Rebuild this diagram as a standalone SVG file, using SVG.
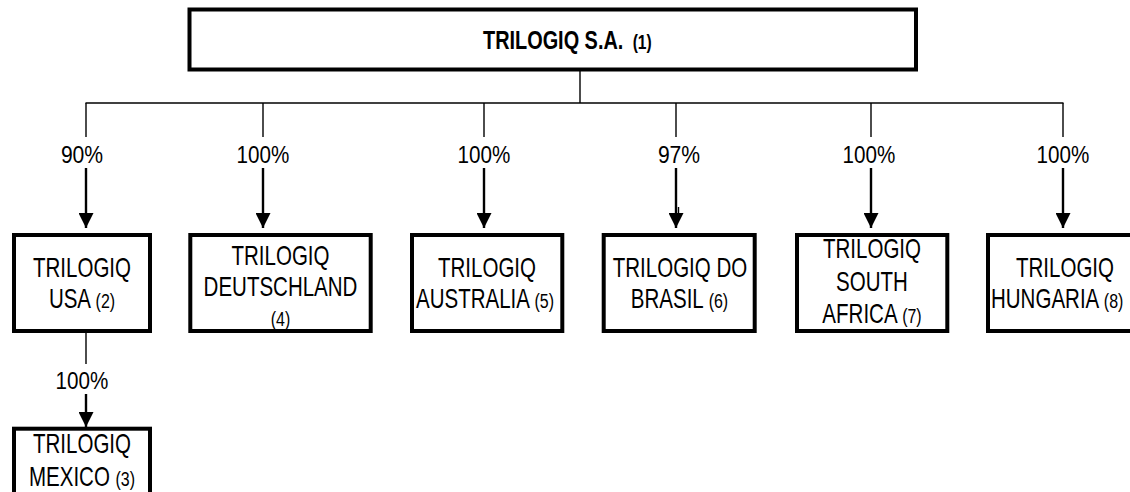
<svg xmlns="http://www.w3.org/2000/svg" width="1130" height="492" viewBox="0 0 1130 492">
<style>
.box{fill:#fff;stroke:#000;stroke-width:4}
.thin{stroke:#000;stroke-width:1.4;fill:none}
.thick{stroke:#000;stroke-width:2.4;fill:none}
.t{font-family:"Liberation Sans",Arial,sans-serif;font-size:27px;fill:#000;text-anchor:middle}
.ts{font-family:"Liberation Sans",Arial,sans-serif;font-size:27px;fill:#000;text-anchor:start}
.p{font-family:"Liberation Sans",Arial,sans-serif;font-size:24px;fill:#000;text-anchor:middle}
.s{font-size:21px}
.title{font-family:"Liberation Sans",Arial,sans-serif;font-size:25.5px;font-weight:bold;fill:#000}
</style>
<defs>
<marker id="ah" viewBox="0 0 15 15" refX="15" refY="7.5" markerWidth="15" markerHeight="15" markerUnits="userSpaceOnUse" orient="auto">
<path d="M0,0 L15,7.5 L0,15 Z" fill="#000"/>
</marker>
</defs>
<rect width="1130" height="492" fill="#fff"/>
<g id="connectors">
<line class="thin" x1="580" y1="71" x2="580" y2="103"/>
<line class="thin" x1="85.5" y1="103" x2="1063.5" y2="103"/>
<line class="thin" x1="86" y1="103" x2="86" y2="137"/>
<line class="thin" x1="263" y1="103" x2="263" y2="137"/>
<line class="thin" x1="484" y1="103" x2="484" y2="137"/>
<line class="thin" x1="676" y1="103" x2="676" y2="137"/>
<line class="thin" x1="871" y1="103" x2="871" y2="137"/>
<line class="thin" x1="1063" y1="103" x2="1063" y2="137"/>
<line class="thick" x1="86" y1="168" x2="86" y2="228" marker-end="url(#ah)"/>
<line class="thick" x1="263" y1="168" x2="263" y2="228" marker-end="url(#ah)"/>
<line class="thick" x1="484" y1="168" x2="484" y2="228" marker-end="url(#ah)"/>
<line class="thick" x1="676" y1="168" x2="676" y2="228" marker-end="url(#ah)"/>
<line class="thin" x1="678.5" y1="207" x2="678.5" y2="218"/>
<line class="thick" x1="871" y1="168" x2="871" y2="228" marker-end="url(#ah)"/>
<line class="thick" x1="1063" y1="168" x2="1063" y2="228" marker-end="url(#ah)"/>
<line class="thin" x1="86" y1="333" x2="86" y2="364"/>
<line class="thick" x1="86" y1="394" x2="86" y2="427" marker-end="url(#ah)"/>
<text class="p" transform="translate(82,163) scale(0.88,1)">90%</text>
<text class="p" transform="translate(263,163) scale(0.86,1)">100%</text>
<text class="p" transform="translate(484,163) scale(0.86,1)">100%</text>
<text class="p" transform="translate(679,163) scale(0.88,1)">97%</text>
<text class="p" transform="translate(869,163) scale(0.86,1)">100%</text>
<text class="p" transform="translate(1063,163) scale(0.86,1)">100%</text>
<text class="p" transform="translate(82,389) scale(0.86,1)">100%</text>
</g>
<g id="n1">
<rect class="box" x="189.5" y="9.5" width="726.5" height="60"/>
<text class="title" transform="translate(483,49) scale(0.78,1)">TRILOGIQ S.A.<tspan font-size="20" dx="12">(1)</tspan></text>
</g>
<g id="n2">
<rect class="box" x="14" y="235" width="136" height="96"/>
<text class="t" transform="translate(82,277) scale(0.76,1)">TRILOGIQ</text>
<text class="t" transform="translate(82,308) scale(0.76,1)">USA <tspan class="s">(2)</tspan></text>
</g>
<g id="n4">
<rect class="box" x="190.3" y="235" width="180.4" height="96"/>
<text class="t" transform="translate(280.5,265) scale(0.76,1)">TRILOGIQ</text>
<text class="t" transform="translate(280.5,296) scale(0.76,1)">DEUTSCHLAND</text>
<text class="t" transform="translate(280.5,326) scale(0.76,1)"><tspan class="s">(4)</tspan></text>
</g>
<g id="n5">
<rect class="box" x="412" y="235" width="150.3" height="96"/>
<text class="t" transform="translate(487,277) scale(0.76,1)">TRILOGIQ</text>
<text class="ts" transform="translate(416,308) scale(0.76,1)">AUSTRALIA <tspan class="s">(5)</tspan></text>
</g>
<g id="n6">
<rect class="box" x="603.7" y="235" width="151" height="96"/>
<text class="t" transform="translate(680,277) scale(0.76,1)">TRILOGIQ DO</text>
<text class="t" transform="translate(679.5,308) scale(0.76,1)">BRASIL <tspan class="s">(6)</tspan></text>
</g>
<g id="n7">
<rect class="box" x="797" y="235" width="150.3" height="96"/>
<text class="t" transform="translate(872,258) scale(0.76,1)">TRILOGIQ</text>
<text class="t" transform="translate(872,290.5) scale(0.76,1)">SOUTH</text>
<text class="t" transform="translate(872,323) scale(0.76,1)">AFRICA <tspan class="s">(7)</tspan></text>
</g>
<g id="n8">
<rect class="box" x="988" y="235" width="152" height="96"/>
<text class="t" transform="translate(1065,277) scale(0.76,1)">TRILOGIQ</text>
<text class="ts" transform="translate(991,308) scale(0.76,1)">HUNGARIA <tspan class="s">(8)</tspan></text>
</g>
<g id="n3">
<rect class="box" x="14" y="428.7" width="136" height="96"/>
<text class="t" transform="translate(82,453) scale(0.76,1)">TRILOGIQ</text>
<text class="t" transform="translate(82,486) scale(0.76,1)">MEXICO <tspan class="s">(3)</tspan></text>
</g>
</svg>
